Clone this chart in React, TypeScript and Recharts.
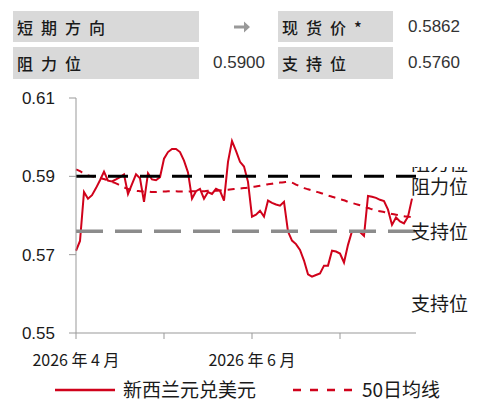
import { LineChart, Line, XAxis, YAxis, ReferenceLine } from 'recharts';

// NZD/USD daily close, Apr - Jul 2026
const FX_VALUES = [
  0.5710, 0.5735, 0.5860, 0.5843, 0.5852, 0.5870, 0.5890, 0.5912, 0.5889, 0.5887,
  0.5892, 0.5898, 0.5905, 0.5855, 0.5880, 0.5905, 0.5895, 0.5835, 0.5908, 0.5892,
  0.5890, 0.5898, 0.5945, 0.5962, 0.5970, 0.5970, 0.5962, 0.5940, 0.5910, 0.5843,
  0.5862, 0.5868, 0.5843, 0.5860, 0.5855, 0.5868, 0.5863, 0.5838, 0.5937, 0.5990,
  0.5965, 0.5937, 0.5925, 0.5886, 0.5797, 0.5802, 0.5812, 0.5797, 0.5838, 0.5832,
  0.5828, 0.5825, 0.5835, 0.5759, 0.5736, 0.5727, 0.5712, 0.5685, 0.5650, 0.5644,
  0.5648, 0.5652, 0.5672, 0.5672, 0.5710, 0.5708, 0.5703, 0.5680, 0.5725, 0.5760,
  0.5760, 0.5758, 0.5748, 0.5850, 0.5848, 0.5845, 0.5840, 0.5837, 0.5815, 0.5776,
  0.5795, 0.5785, 0.5780, 0.5797, 0.5843,
];

// 50-day moving average
const MA_VALUES = [
  0.5918, 0.5913, 0.5907, 0.5902, 0.5900, 0.5898, 0.5896, 0.5893, 0.5890, 0.5886,
  0.5882, 0.5877, 0.5872, 0.5868, 0.5865, 0.5863, 0.5862, 0.5861, 0.5861, 0.5860,
  0.5860, 0.5861, 0.5861, 0.5862, 0.5862, 0.5862, 0.5861, 0.5861, 0.5861, 0.5862,
  0.5862, 0.5862, 0.5862, 0.5863, 0.5863, 0.5863, 0.5864, 0.5865, 0.5866, 0.5867,
  0.5868, 0.5869, 0.5870, 0.5871, 0.5873, 0.5874, 0.5876, 0.5878, 0.5880, 0.5881,
  0.5883, 0.5884, 0.5885, 0.5886, 0.5884, 0.5879, 0.5874, 0.5870, 0.5867, 0.5864,
  0.5861, 0.5858, 0.5855, 0.5851, 0.5848, 0.5845, 0.5842, 0.5839, 0.5835, 0.5832,
  0.5829, 0.5826, 0.5823, 0.5819, 0.5816, 0.5813, 0.5811, 0.5809, 0.5806, 0.5804,
  0.5802, 0.5800, 0.5798, 0.5797, 0.5796,
];

const MONTH_TICKS = [0, 22, 44, 66];
const MONTH_LABELS = ['2026 年 4 月', '', '2026 年 6 月', ''];
const Y_TICKS = [0.55, 0.57, 0.59, 0.61];

const RESISTANCE = 0.59;
const SUPPORT = 0.576;

const RED = '#d0021b';
const CJK = '"Noto Sans CJK SC", "Noto Sans", sans-serif';
const LATIN = '"Liberation Sans", Arial, sans-serif';

const data = FX_VALUES.map((fx, i) => ({ i, fx, ma: MA_VALUES[i] }));

function MonthTick(props: any) {
  const { x, y, payload } = props;
  const idx = MONTH_TICKS.indexOf(payload.value);
  const label = idx >= 0 ? MONTH_LABELS[idx] : '';
  if (!label) return null;
  return (
    <text x={x} y={y} dy={25} textAnchor="middle" fill="#1a1a1a" fontSize={16} fontFamily={CJK}>
      {label}
    </text>
  );
}

const boxStyle: React.CSSProperties = {
  position: 'absolute',
  background: '#d9d9d9',
  fontFamily: CJK,
  fontSize: 16,
  fontWeight: 500,
  letterSpacing: 8,
  color: '#1a1a1a',
  display: 'flex',
  alignItems: 'center',
  paddingLeft: 4,
  boxSizing: 'border-box',
};

const valueStyle: React.CSSProperties = {
  position: 'absolute',
  fontFamily: LATIN,
  fontSize: 17,
  color: '#333',
  textAlign: 'right',
  width: 80,
  lineHeight: '20px',
};

const sideLabel: React.CSSProperties = {
  position: 'absolute',
  left: 411,
  fontFamily: CJK,
  fontSize: 19,
  lineHeight: '19px',
  color: '#1a1a1a',
  whiteSpace: 'nowrap',
};

export default function App() {
  return (
    <div style={{ position: 'relative', width: 477, height: 408, background: '#fff', overflow: 'hidden' }}>
      <style>{'body{margin:0}'}</style>

      {/* header table */}
      <div style={{ ...boxStyle, left: 13, top: 11, width: 186, height: 31 }}>短期方向</div>
      <svg style={{ position: 'absolute', left: 233, top: 20 }} width={18} height={14} viewBox="0 0 18 14">
        <path d="M1 5.5h10V1.5l6 5.5-6 5.5v-4H1z" fill="#999" />
      </svg>
      <div style={{ ...boxStyle, left: 278, top: 11, width: 115, height: 31 }}>现货价*</div>
      <div style={{ ...valueStyle, left: 380, top: 17 }}>0.5862</div>

      <div style={{ ...boxStyle, left: 13, top: 47, width: 186, height: 32 }}>阻力位</div>
      <div style={{ ...valueStyle, left: 185, top: 53 }}>0.5900</div>
      <div style={{ ...boxStyle, left: 278, top: 47, width: 115, height: 32 }}>支持位</div>
      <div style={{ ...valueStyle, left: 380, top: 53 }}>0.5760</div>

      <LineChart
        width={477}
        height={408}
        data={data}
        margin={{ top: 98, right: 61, left: 0, bottom: 45 }}
        style={{ position: 'absolute', left: 0, top: 0 }}
      >
        <XAxis
          dataKey="i"
          type="number"
          domain={[0, 85]}
          ticks={MONTH_TICKS}
          interval={0}
          height={30}
          axisLine={{ stroke: '#999' }}
          tickLine={{ stroke: '#999' }}
          tickSize={6}
          tick={<MonthTick />}
        />
        <YAxis
          type="number"
          domain={[0.55, 0.61]}
          ticks={Y_TICKS}
          width={76}
          axisLine={{ stroke: '#999' }}
          tickLine={{ stroke: '#999' }}
          tickSize={7}
          tickMargin={14}
          tickFormatter={(v: number) => v.toFixed(2)}
          tick={{ fill: '#1a1a1a', fontSize: 17, fontFamily: LATIN }}
        />
        <Line
          dataKey="fx"
          stroke={RED}
          strokeWidth={2}
          dot={false}
          type="linear"
          isAnimationActive={false}
        />
        <Line
          dataKey="ma"
          stroke={RED}
          strokeWidth={2}
          strokeDasharray="7 6"
          dot={false}
          type="monotone"
          isAnimationActive={false}
        />
        <ReferenceLine y={RESISTANCE} stroke="#000" strokeWidth={3} strokeDasharray="20 12" />
        <ReferenceLine y={SUPPORT} stroke="#8c8c8c" strokeWidth={3.5} strokeDasharray="27 12" />
      </LineChart>

      {/* right-hand labels */}
      <div style={{ position: 'absolute', left: 0, top: 167, width: 477, height: 5, overflow: 'hidden' }}>
        <div style={{ ...sideLabel, top: -14 }}>阻力位</div>
      </div>
      <div style={{ ...sideLabel, top: 176 }}>阻力位</div>
      <div style={{ ...sideLabel, top: 221 }}>支持位</div>
      <div style={{ ...sideLabel, top: 293 }}>支持位</div>

      {/* legend */}
      <svg style={{ position: 'absolute', left: 55, top: 385 }} width={60} height={10}>
        <line x1={0} y1={5} x2={60} y2={5} stroke={RED} strokeWidth={2.5} />
      </svg>
      <div style={{ position: 'absolute', left: 123, top: 378, fontFamily: CJK, fontSize: 19, lineHeight: '22px', color: '#1a1a1a' }}>
        新西兰元兑美元
      </div>
      <svg style={{ position: 'absolute', left: 293, top: 385 }} width={60} height={10}>
        <line x1={0} y1={5} x2={60} y2={5} stroke={RED} strokeWidth={2.5} strokeDasharray="8 9" />
      </svg>
      <div style={{ position: 'absolute', left: 362, top: 378, fontFamily: CJK, fontSize: 19, lineHeight: '22px', color: '#1a1a1a' }}>
        50日均线
      </div>
    </div>
  );
}
